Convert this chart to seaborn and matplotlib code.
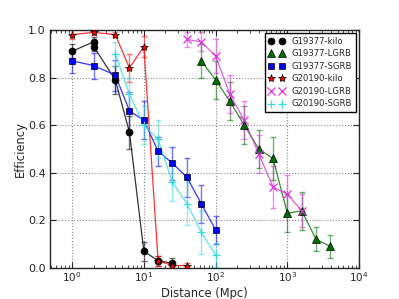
import numpy as np
import pandas as pd
import matplotlib
matplotlib.use("Agg")
import matplotlib.pyplot as plt
import seaborn as sns
from matplotlib.lines import Line2D

# ---- data ----
kilo_x_19377 = [1, 2, 2, 4, 6.3, 10, 15.8, 25]
kilo_y_19377 = [0.91, 0.95, 0.93, 0.79, 0.57, 0.07, 0.03, 0.02]
kilo_e_19377 = [0.03, 0.02, 0.02, 0.06, 0.07, 0.04, 0.02, 0.02]

lgrb_x_19377 = [63, 100, 158, 251, 398, 631, 1000, 1585, 2512, 3981]
lgrb_y_19377 = [0.87, 0.79, 0.70, 0.60, 0.50, 0.46, 0.23, 0.24, 0.12, 0.09]
lgrb_e_19377 = [0.07, 0.08, 0.08, 0.08, 0.08, 0.09, 0.08, 0.08, 0.05, 0.05]

sgrb_x_19377 = [1, 2, 4, 6.3, 10, 15.8, 25, 40, 63, 100]
sgrb_y_19377 = [0.87, 0.85, 0.81, 0.66, 0.62, 0.49, 0.44, 0.38, 0.27, 0.16]
sgrb_e_19377 = [0.05, 0.055, 0.065, 0.08, 0.08, 0.06, 0.07, 0.08, 0.08, 0.06]

kilo_x_20190 = [1, 2, 4, 6.3, 10, 15.8, 25, 40]
kilo_y_20190 = [0.98, 0.99, 0.98, 0.84, 0.93, 0.03, 0.01, 0.01]
kilo_e_20190 = [0.02, 0.01, 0.01, 0.06, 0.045, 0.02, 0.01, 0.01]

lgrb_x_20190 = [40, 63, 100, 158, 251, 398, 631, 1000, 1585]
lgrb_y_20190 = [0.96, 0.95, 0.89, 0.73, 0.62, 0.48, 0.34, 0.31, 0.24]
lgrb_e_20190 = [0.03, 0.04, 0.07, 0.08, 0.08, 0.08, 0.09, 0.08, 0.07]

sgrb_x_20190 = [4, 6.3, 10, 15.8, 25, 40, 63, 100]
sgrb_y_20190 = [0.90, 0.73, 0.60, 0.54, 0.36, 0.27, 0.15, 0.055]
sgrb_e_20190 = [0.05, 0.07, 0.08, 0.08, 0.08, 0.09, 0.09, 0.05]

labels = ["G19377-kilo", "G19377-LGRB", "G19377-SGRB",
          "G20190-kilo", "G20190-LGRB", "G20190-SGRB"]

series = [
    (kilo_x_19377, kilo_y_19377, kilo_e_19377),
    (lgrb_x_19377, lgrb_y_19377, lgrb_e_19377),
    (sgrb_x_19377, sgrb_y_19377, sgrb_e_19377),
    (kilo_x_20190, kilo_y_20190, kilo_e_20190),
    (lgrb_x_20190, lgrb_y_20190, lgrb_e_20190),
    (sgrb_x_20190, sgrb_y_20190, sgrb_e_20190),
]

colors = ["black", "#007000", "#0000ff", "#ff0000", "#dd33dd", "#33dddd"]
markers = ["o", "^", "s", "*", "x", "+"]
msizes = [5, 5.5, 5, 6, 5.5, 6]

sns.set_style("ticks")
plt.rcParams["font.family"] = ["DejaVu Sans"]

fig = plt.figure(figsize=(3.99, 2.99), dpi=100)
ax = fig.add_axes([0.125, 0.104, 0.775, 0.796])

def edge(m, c):
    return ("black" if m not in ("x", "+") else c), (0.5 if m not in ("x", "+") else 0.9)

for (x, y, e), lab, c, m, ms in zip(series, labels, colors, markers, msizes):
    df = pd.DataFrame({"x": x, "y": y})
    ax.errorbar(x, y, yerr=e, fmt="none", ecolor=c, alpha=0.55,
                elinewidth=1.0, capsize=2.5, capthick=1.0, zorder=2)
    sns.lineplot(data=df, x="x", y="y", ax=ax, color=c, linewidth=0.9,
                 sort=False, estimator=None, alpha=0.8, legend=False, zorder=3)
    ec, ew = edge(m, c)
    ax.plot(x, y, linestyle="none", marker=m, markersize=ms, color=c,
            markeredgecolor=ec, markeredgewidth=ew, zorder=4)

ax.set_xscale("log")
ax.set_xlim(0.49, 1e4)
ax.set_ylim(0, 1.0)
ax.set_yticks([0.0, 0.2, 0.4, 0.6, 0.8, 1.0])
ax.set_yticklabels(["0.0", "0.2", "0.4", "0.6", "0.8", "1.0"])
ax.grid(True, which="major", linestyle=":", color="#888888", linewidth=0.8)
ax.tick_params(direction="in", which="both", top=True, right=True,
               labelsize=8, pad=3)
ax.tick_params(axis="x", which="major", pad=2, labelsize=7.5)
ax.tick_params(which="major", length=4)
ax.tick_params(which="minor", length=2)
for s in ax.spines.values():
    s.set_linewidth(1.0)
ax.set_xlabel("Distance (Mpc)", fontsize=8.3, va="center")
ax.set_ylabel("Efficiency", fontsize=8.3, va="center")
ax.xaxis.set_label_coords(0.5, -0.108)
ax.yaxis.set_label_coords(-0.094, 0.5)

handles = []
for c, m, ms in zip(colors, markers, msizes):
    ec, ew = edge(m, c)
    handles.append(Line2D([], [], linestyle="none", marker=m, markersize=ms,
                          color=c, markeredgecolor=ec, markeredgewidth=ew))
leg = ax.legend(handles, labels, loc="upper right", numpoints=2, fontsize=6.1,
                frameon=True, fancybox=False, handlelength=1.9,
                borderpad=0.4, labelspacing=0.42, handletextpad=0.85,
                borderaxespad=0.4, bbox_to_anchor=(1.0, 1.0))
leg.get_frame().set_edgecolor("black")
leg.get_frame().set_linewidth(1.0)
leg.get_frame().set_alpha(1.0)

fig.savefig("out.png", dpi=100)
